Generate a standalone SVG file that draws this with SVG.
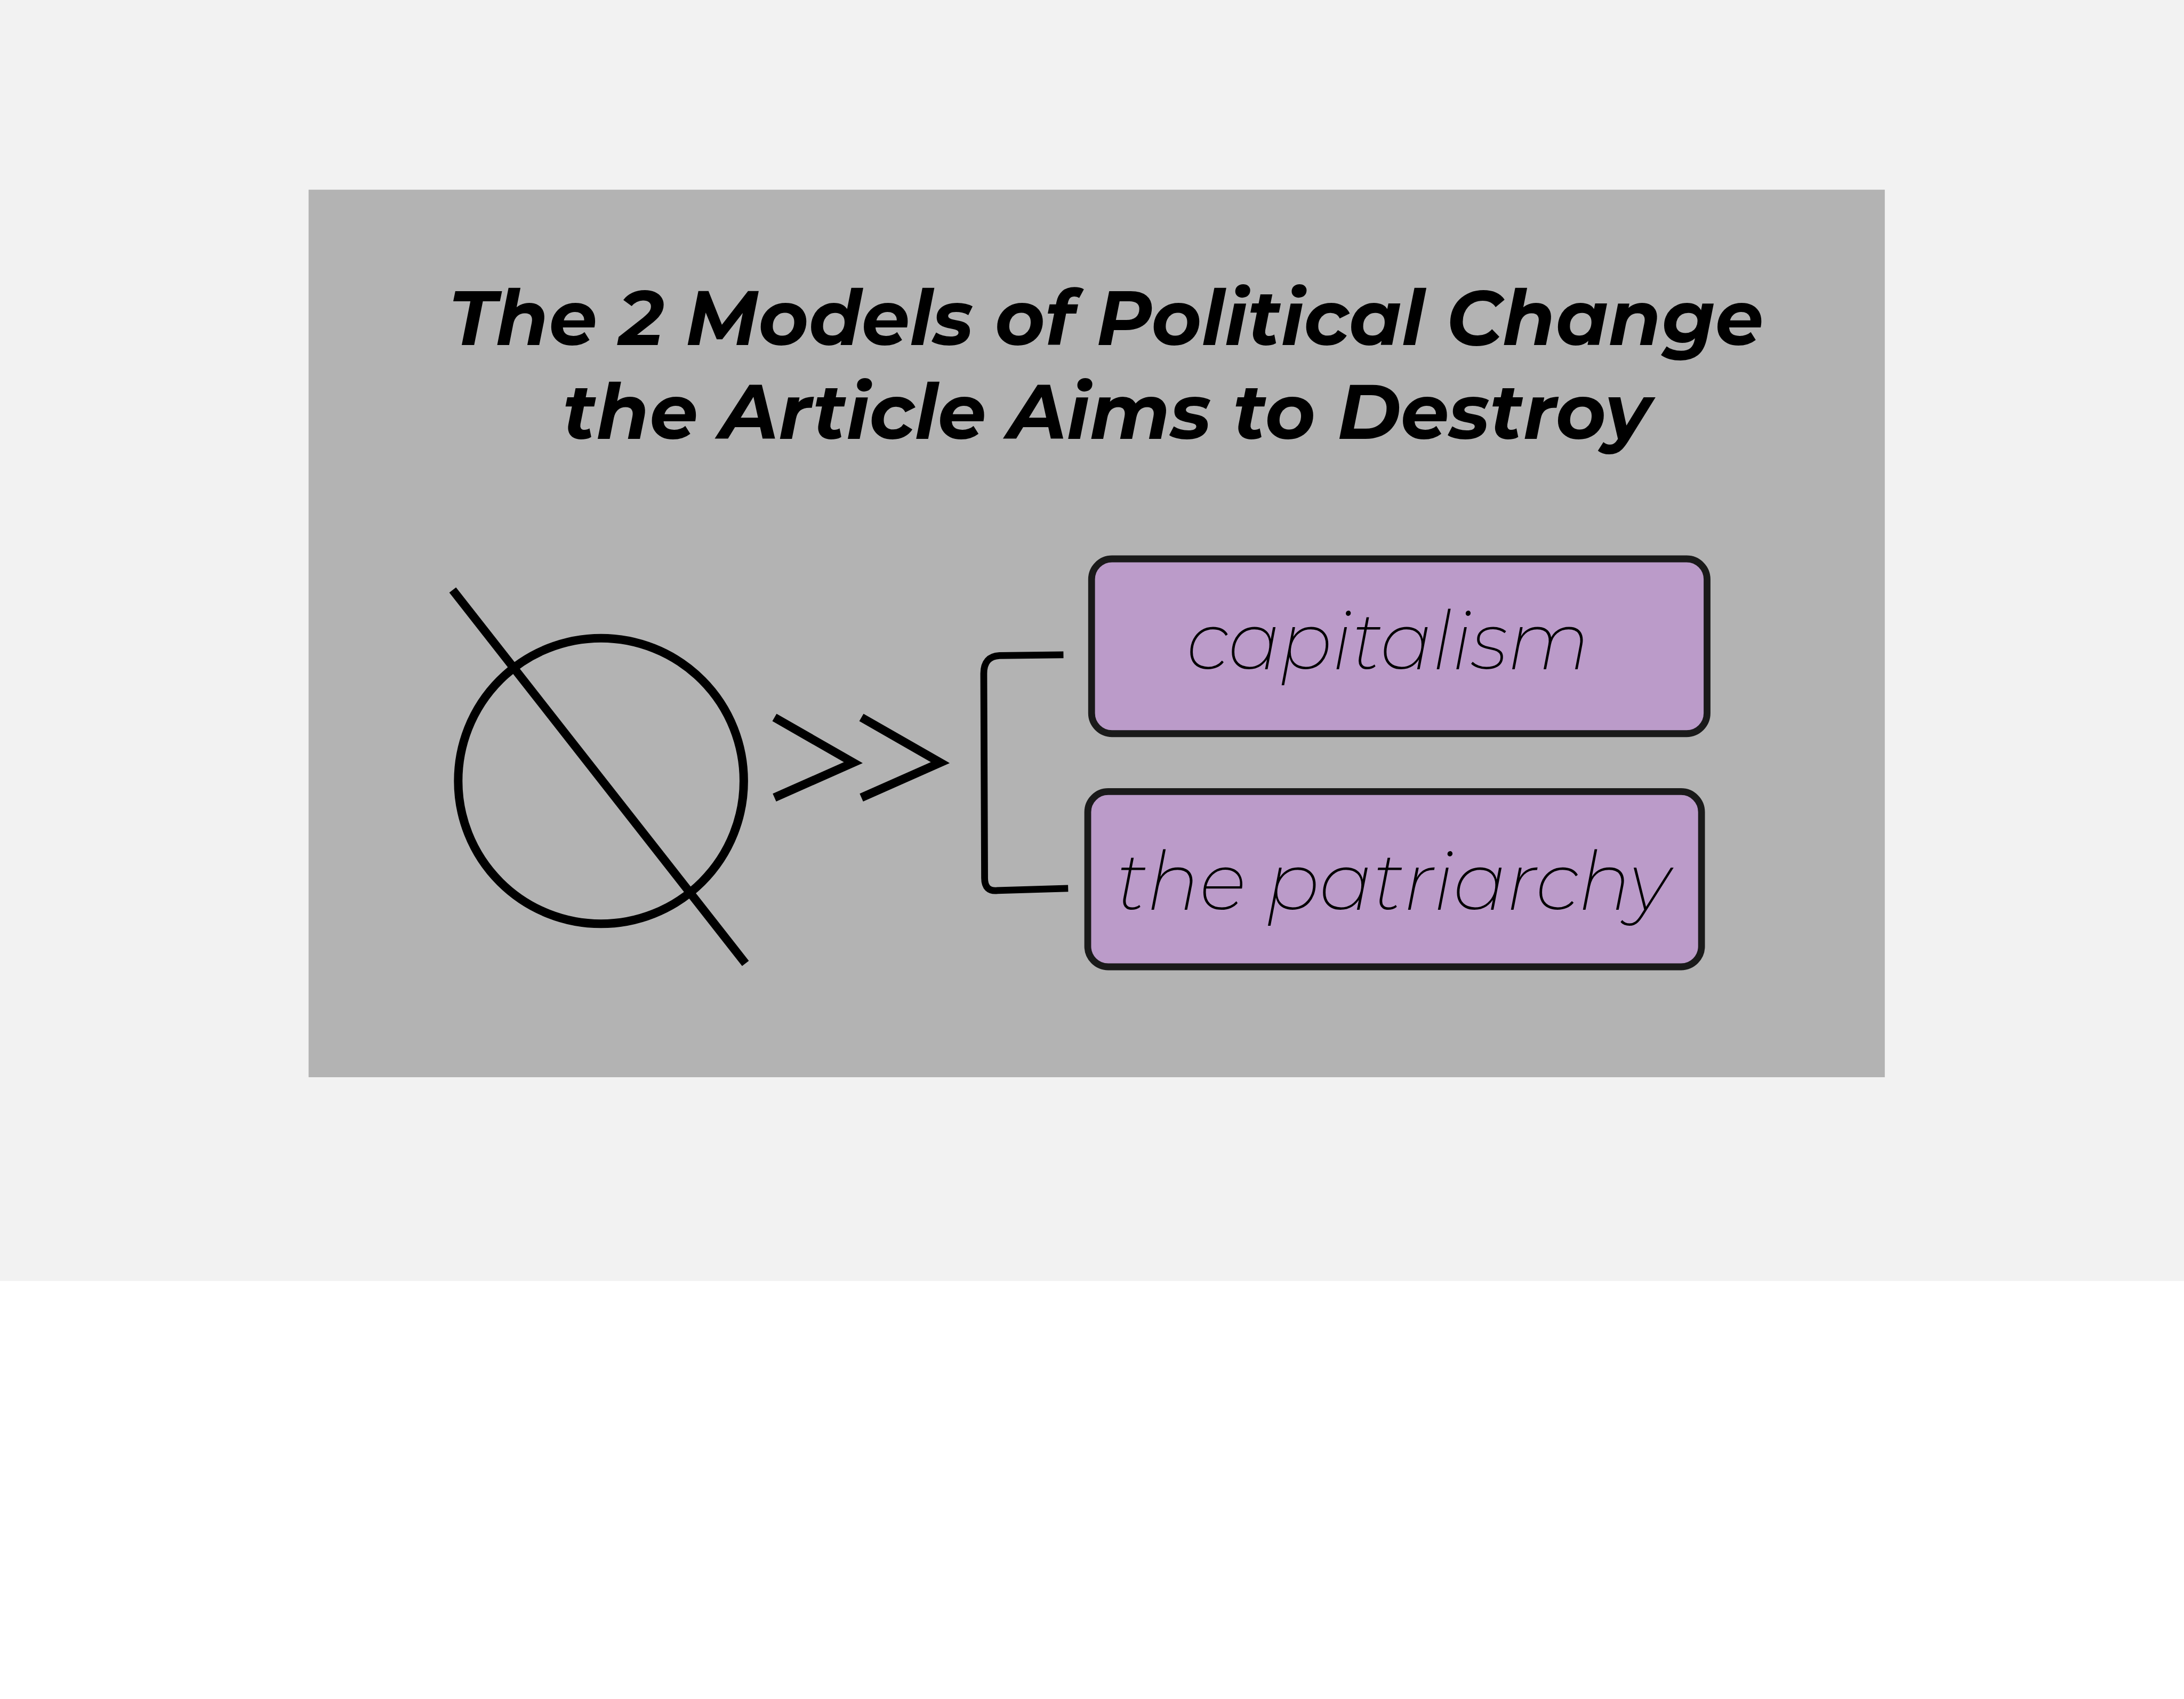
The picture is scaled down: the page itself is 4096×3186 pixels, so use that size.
<svg xmlns="http://www.w3.org/2000/svg" width="4096" height="3186" viewBox="0 0 4096 3186">
<style>
.title{font-family:Montserrat,"Lato","Open Sans","Liberation Sans",sans-serif;font-weight:700;font-style:italic;font-size:180px;fill:#000}
.label{font-family:Montserrat,"Lato","Open Sans","Liberation Sans",sans-serif;font-weight:200;font-style:italic;font-size:190px;fill:#000}
.box{fill:#bb9bc9;stroke:#1a1a1a;stroke-width:16}
.ink{fill:none;stroke:#000;stroke-width:20;stroke-linejoin:miter;stroke-miterlimit:10}
</style>
<rect x="0" y="0" width="4096" height="3186" fill="#ffffff"/>
<g transform="scale(0.79938)">
<rect id="page" x="0" y="0" width="5124" height="3005" fill="#f2f2f2"/>
<rect id="panel" x="724" y="445" width="3698" height="2082" fill="#b3b3b3"/>
<g id="title">
<text class="title" x="1052" y="810" textLength="3085" lengthAdjust="spacingAndGlyphs">The 2 Models of Political Change</text>
<text class="title" x="1320" y="1030" textLength="2553" lengthAdjust="spacingAndGlyphs">the Article Aims to Destroy</text>
</g>
<g id="symbol">
<circle class="ink" cx="1410" cy="1832" r="335"/>
<line class="ink" x1="1062" y1="1384" x2="1749" y2="2260"/>
</g>
<g id="chevrons">
<polyline class="ink" points="1817,1683 2002,1789 1817,1871"/>
<polyline class="ink" points="2021,1683 2206,1789 2021,1871"/>
</g>
<g id="connectors">
<path d="M2495,1536 L2345,1538 Q2308,1540 2308,1580 L2310,2060 Q2310,2092 2340,2089 L2506,2084" fill="none" stroke="#000" stroke-width="16"/>
</g>
<g id="node-capitalism">
<rect class="box" x="2561" y="1311" width="1444" height="410" rx="48" ry="48"/>
<text class="label" x="2784" y="1570" textLength="946" lengthAdjust="spacingAndGlyphs">capitalism</text>
</g>
<g id="node-patriarchy">
<rect class="box" x="2552" y="1857" width="1440" height="411" rx="48" ry="48"/>
<text class="label" x="2618" y="2134" textLength="1300" lengthAdjust="spacingAndGlyphs">the patriarchy</text>
</g>
</g>
</svg>
